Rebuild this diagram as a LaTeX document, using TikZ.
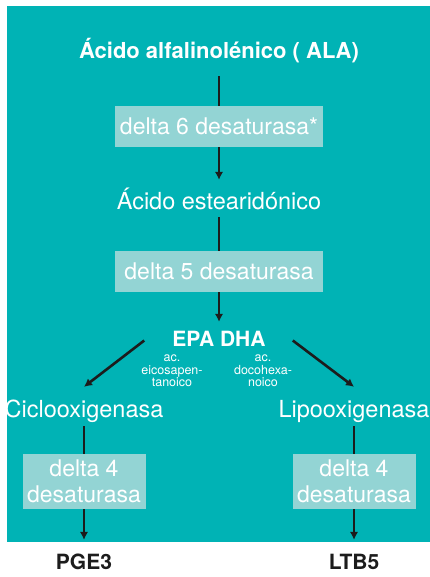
\documentclass[tikz,border=0pt]{standalone}
\usepackage{fontspec}
\setmainfont{TeX Gyre Heros}
\usetikzlibrary{arrows.meta}

\definecolor{bgteal}{HTML}{00B3B5}
\definecolor{boxteal}{HTML}{93D4D4}
\definecolor{inkdark}{HTML}{1C1C1C}

\begin{document}
\begin{tikzpicture}[x=1pt,y=-1pt,
  bigtext/.style={text=white,inner sep=0pt,anchor=base,
    font=\fontsize{23.5}{26}\selectfont,text height=16pt,text depth=5pt},
  boldtext/.style={bigtext,font=\fontsize{22}{26}\selectfont\bfseries},
  smalltext/.style={text=white,inner sep=0pt,align=center,
    font=\fontsize{12.5}{12.5}\selectfont},
  enzyme/.style={fill=boxteal,text=white,inner sep=0pt,align=center,
    font=\fontsize{23}{26}\selectfont,minimum width=208pt,minimum height=41pt},
  product/.style={boldtext,text=inkdark,font=\fontsize{21}{24}\selectfont\bfseries},
  link/.style={draw=inkdark,line width=2.6pt},
  arr/.style={link,-{Latex[length=8pt,width=8.5pt]}}]

\useasboundingbox (0,0) rectangle (430,577);

% Background panel
\fill[bgteal] (7,6) rectangle (430,542);

% Main chain
\node[boldtext] (ala) at (219,59) {Ácido alfalinolénico ( ALA)};
\node[enzyme] (d6) at (219,126.5) {delta 6 desaturasa*};
\node[bigtext] (sda) at (219,209) {Ácido estearidónico};
\node[enzyme] (d5) at (219,271.5) {delta 5 desaturasa};
\node[boldtext,font=\fontsize{21}{24}\selectfont\bfseries] (epa) at (219,346) {EPA DHA};

% Notes under EPA DHA
\node[smalltext] (eic) at (172,371) {ac.\\eicosapen-\\tanoico};
\node[smalltext] (doc) at (263,371) {ac.\\docohexa-\\noico};

% Two branches
\node[bigtext] (cox) at (84,417) {Ciclooxigenasa};
\node[bigtext] (lox) at (354,417) {Lipooxigenasa};
\node[enzyme,minimum width=123pt,minimum height=55pt] (d4a) at (84,481.5) {delta 4\\desaturasa};
\node[enzyme,minimum width=123pt,minimum height=55pt] (d4b) at (354,481.5) {delta 4\\desaturasa};

% End products
\node[product] (pge) at (84,569) {PGE3};
\node[product] (ltb) at (354,569) {LTB5};

% Connectors
\draw[link,shorten <=12pt] (ala) -- (d6);
\draw[arr,shorten >=13pt] (d6) -- (sda);
\draw[link,shorten <=3pt] (sda) -- (d5);
\draw[arr,shorten >=8pt] (d5) -- (epa);
\draw[arr] ([xshift=-28pt]epa.west) -- ([yshift=14pt]cox.north);
\draw[arr] ([xshift=27pt]epa.east) -- ([yshift=14pt]lox.north);
\draw[link,shorten <=4pt] (cox) -- (d4a);
\draw[link,shorten <=4pt] (lox) -- (d4b);
\draw[arr,shorten >=13pt] (d4a) -- (pge);
\draw[arr,shorten >=13pt] (d4b) -- (ltb);
\end{tikzpicture}
\end{document}
